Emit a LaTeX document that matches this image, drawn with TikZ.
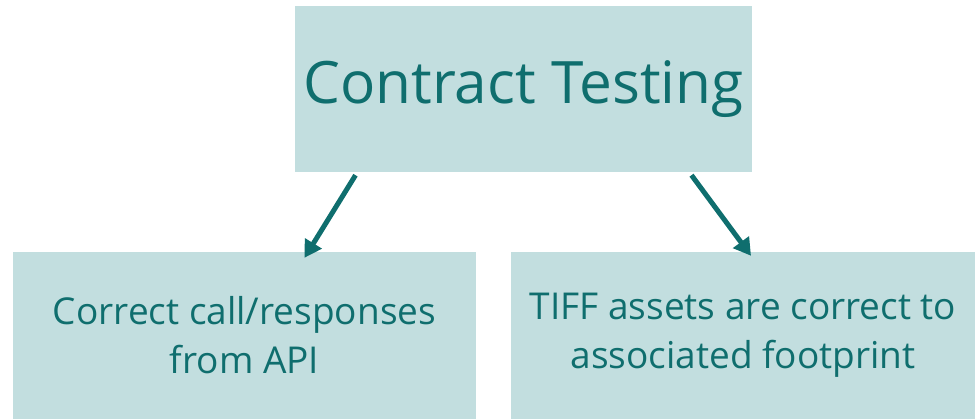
\documentclass[tikz,border=0pt]{standalone}
\usepackage{fontspec}
\setmainfont{Open Sans}
\usetikzlibrary{arrows.meta}
\definecolor{boxfill}{HTML}{C2DEDF}
\definecolor{tealtext}{HTML}{0F6E6E}
\begin{document}
\begin{tikzpicture}[
    x=1pt, y=-1pt,
    box/.style={fill=boxfill, inner sep=0pt, align=center, text=tealtext},
    arrow/.style={-{Triangle[length=17pt,width=19pt]}, line width=5pt, tealtext}
]
    \useasboundingbox (0,0) rectangle (975,419);
    % Main topic
    \node[box, minimum width=457pt, minimum height=166pt, font=\fontsize{58.5}{62}\selectfont] (contract) at (523.5,89) {Contract Testing};
    
    % Two checks
    \node[box, minimum width=463pt, minimum height=167pt, font=\fontsize{37}{49}\selectfont] (api) at (244.5,335.5) {Correct call/responses\\from API};
    \node[box, minimum width=464pt, minimum height=167pt, font=\fontsize{37}{49}\selectfont] (tiff) at (743,335.5) {TIFF assets are correct to\\associated footprint};
    
    % Arrows
    \draw[arrow] ([xshift=-168pt,yshift=-3pt]contract.south) -- ([xshift=60pt,yshift=-6pt]api.north);
    \draw[arrow] ([xshift=168pt,yshift=-3pt]contract.south) -- ([xshift=8pt,yshift=-4pt]tiff.north);
\end{tikzpicture}
\end{document}
